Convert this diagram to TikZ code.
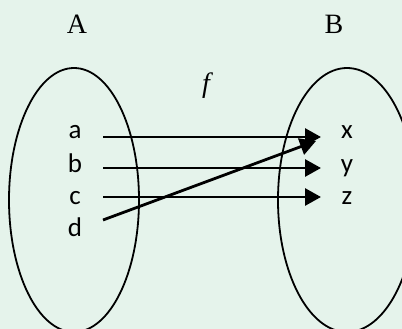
\documentclass[tikz,border=0pt]{standalone}
\usepackage{fontspec}
\setmainfont{Liberation Serif}
\newfontfamily\lettfont{Carlito}
\usetikzlibrary{arrows.meta}
\definecolor{bgmint}{RGB}{229,243,235}
\tikzset{
  elem/.style={font=\lettfont\fontsize{27}{29}\selectfont, inner sep=0pt, anchor=base},
  setlab/.style={font=\fontsize{28}{30}\selectfont, inner sep=0pt},
  maparrow/.style={line width=2.8pt, -{Triangle[length=16pt,width=17pt]}},
  setshape/.style={line width=1.8pt}
}
\begin{document}
\begin{tikzpicture}[x=1pt,y=-1pt]
\fill[bgmint] (0,0) rectangle (402,329);
\useasboundingbox (0,0) rectangle (402,329);
\begin{scope}
\clip (0,0) rectangle (402,329);
\draw[setshape] (74,200) ellipse [x radius=65, y radius=132];
\draw[setshape] (347,200) ellipse [x radius=69, y radius=132];
\end{scope}
\node[setlab] (A) at (77,24) {A};
\node[setlab] (B) at (334,24) {B};
\node[setlab] (f) at (206,86) {\itshape f};
\node[elem] (a) at (75,139) {a};
\node[elem] (b) at (75,172) {b};
\node[elem] (c) at (75,204) {c};
\node[elem] (d) at (75,236) {d};
\node[elem] (x) at (347,139) {x};
\node[elem] (y) at (347,172) {y};
\node[elem] (z) at (347,204) {z};
\coordinate (a0) at (103,137);
\coordinate (b0) at (103,168);
\coordinate (c0) at (103,197);
\coordinate (d0) at (103,220);
\coordinate (x1) at (321,137);
\coordinate (y1) at (321,168);
\coordinate (z1) at (321,197);
\coordinate (x2) at (316,141);
\draw[maparrow] (a0) -- (x1);
\draw[maparrow] (b0) -- (y1);
\draw[maparrow] (c0) -- (z1);
\draw[maparrow] (d0) -- (x2);
\end{tikzpicture}
\end{document}
